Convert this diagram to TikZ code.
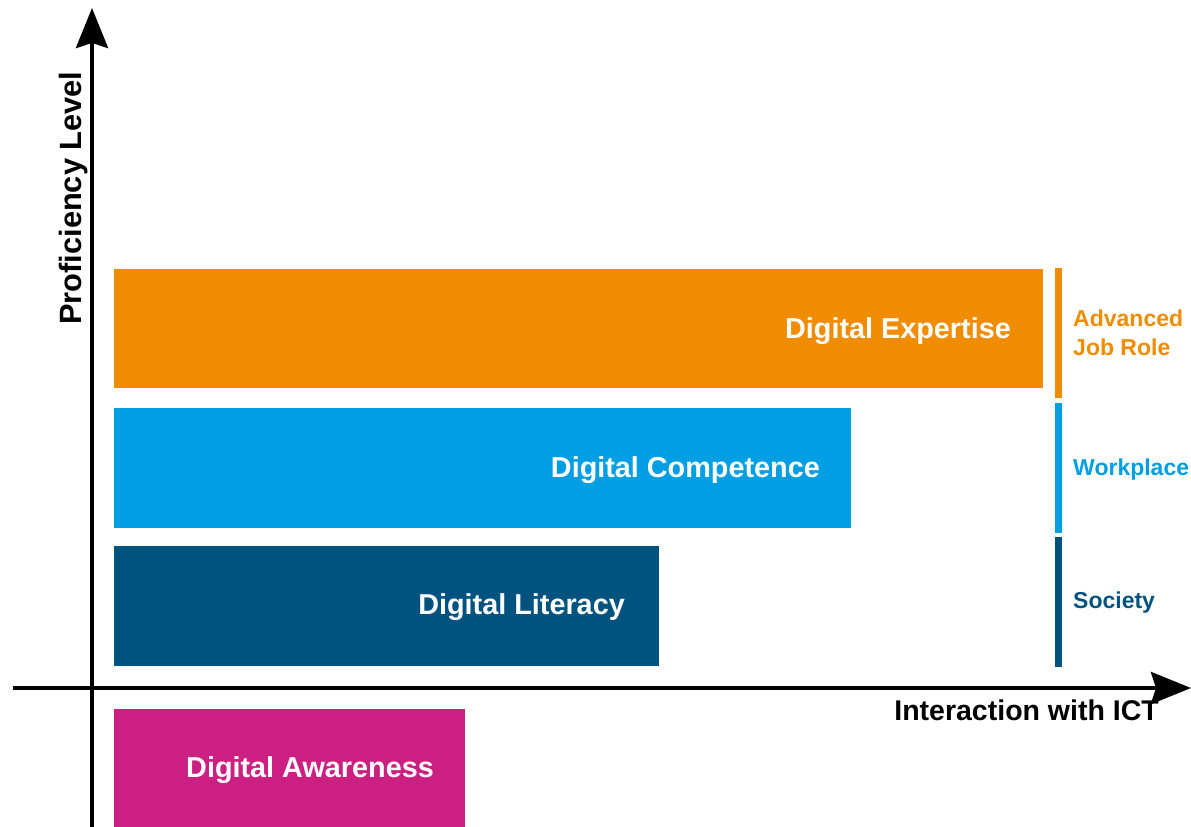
\documentclass[tikz,border=0pt]{standalone}
\usepackage{fontspec}
\setmainfont{Liberation Sans}
\usetikzlibrary{arrows.meta}
\definecolor{cOrange}{HTML}{F08C00}
\definecolor{cLight}{HTML}{009FE3}
\definecolor{cDark}{HTML}{00527F}
\definecolor{cMag}{HTML}{CC1F82}
\begin{document}
\begin{tikzpicture}[x=1pt,y=-1pt,
  bar/.style={draw=none,inner sep=0pt,outer sep=0pt,anchor=north west},
  inlabel/.style={inner sep=0pt,text=white,font=\fontsize{28.8}{32}\selectfont\bfseries,anchor=base east},
  sidelabel/.style={inner sep=0pt,font=\fontsize{23}{29}\selectfont\bfseries,anchor=base west,align=left},
  axislabel/.style={inner sep=0pt,font=\fontsize{28.5}{32}\selectfont\bfseries},
  axis/.style={line width=4pt,-{Stealth[length=40pt,width=32pt,inset=5pt]}}]
\useasboundingbox (0,0) rectangle (1191,827);
% bars
\node[bar,fill=cOrange,minimum width=929pt,minimum height=119pt] (exp) at (114,269) {};
\node[bar,fill=cLight,minimum width=737pt,minimum height=120pt] (comp) at (114,408) {};
\node[bar,fill=cDark,minimum width=545pt,minimum height=120pt] (lit) at (114,546) {};
\node[bar,fill=cMag,minimum width=351pt,minimum height=120pt] (aware) at (114,709) {};
\node[inlabel] (texp) at (1011,338) {Digital Expertise};
\node[inlabel] (tcomp) at (820,477) {Digital Competence};
\node[inlabel] (tlit) at (625,614) {Digital Literacy};
\node[inlabel] (taware) at (434,777) {Digital Awareness};
% side bars
\node[bar,fill=cOrange,minimum width=7pt,minimum height=130pt] (sbA) at (1055,268) {};
\node[bar,fill=cLight,minimum width=7pt,minimum height=130pt] (sbW) at (1055,403) {};
\node[bar,fill=cDark,minimum width=7pt,minimum height=130pt] (sbS) at (1055,537) {};
\node[sidelabel,text=cOrange] (lA) at (1073,326) {Advanced};
\node[sidelabel,text=cOrange] (lJ) at (1073,355) {Job Role};
\node[sidelabel,text=cLight] (lW) at (1073,475) {Workplace};
\node[sidelabel,text=cDark] (lS) at (1073,608) {Society};
% axes
\coordinate (ys) at (92,827);
\coordinate (ye) at (92,8);
\coordinate (xs) at (13,688);
\coordinate (xe) at (1191,688);
\draw[axis] (ys) -- (ye);
\draw[axis] (xs) -- (xe);
\node[axislabel,font=\fontsize{30.8}{34}\selectfont\bfseries,rotate=90,anchor=base west] (ylab) at (81,325) {Proficiency Level};
\node[axislabel,anchor=base east] (xlab) at (1159,720) {Interaction with ICT};
\end{tikzpicture}
\end{document}
